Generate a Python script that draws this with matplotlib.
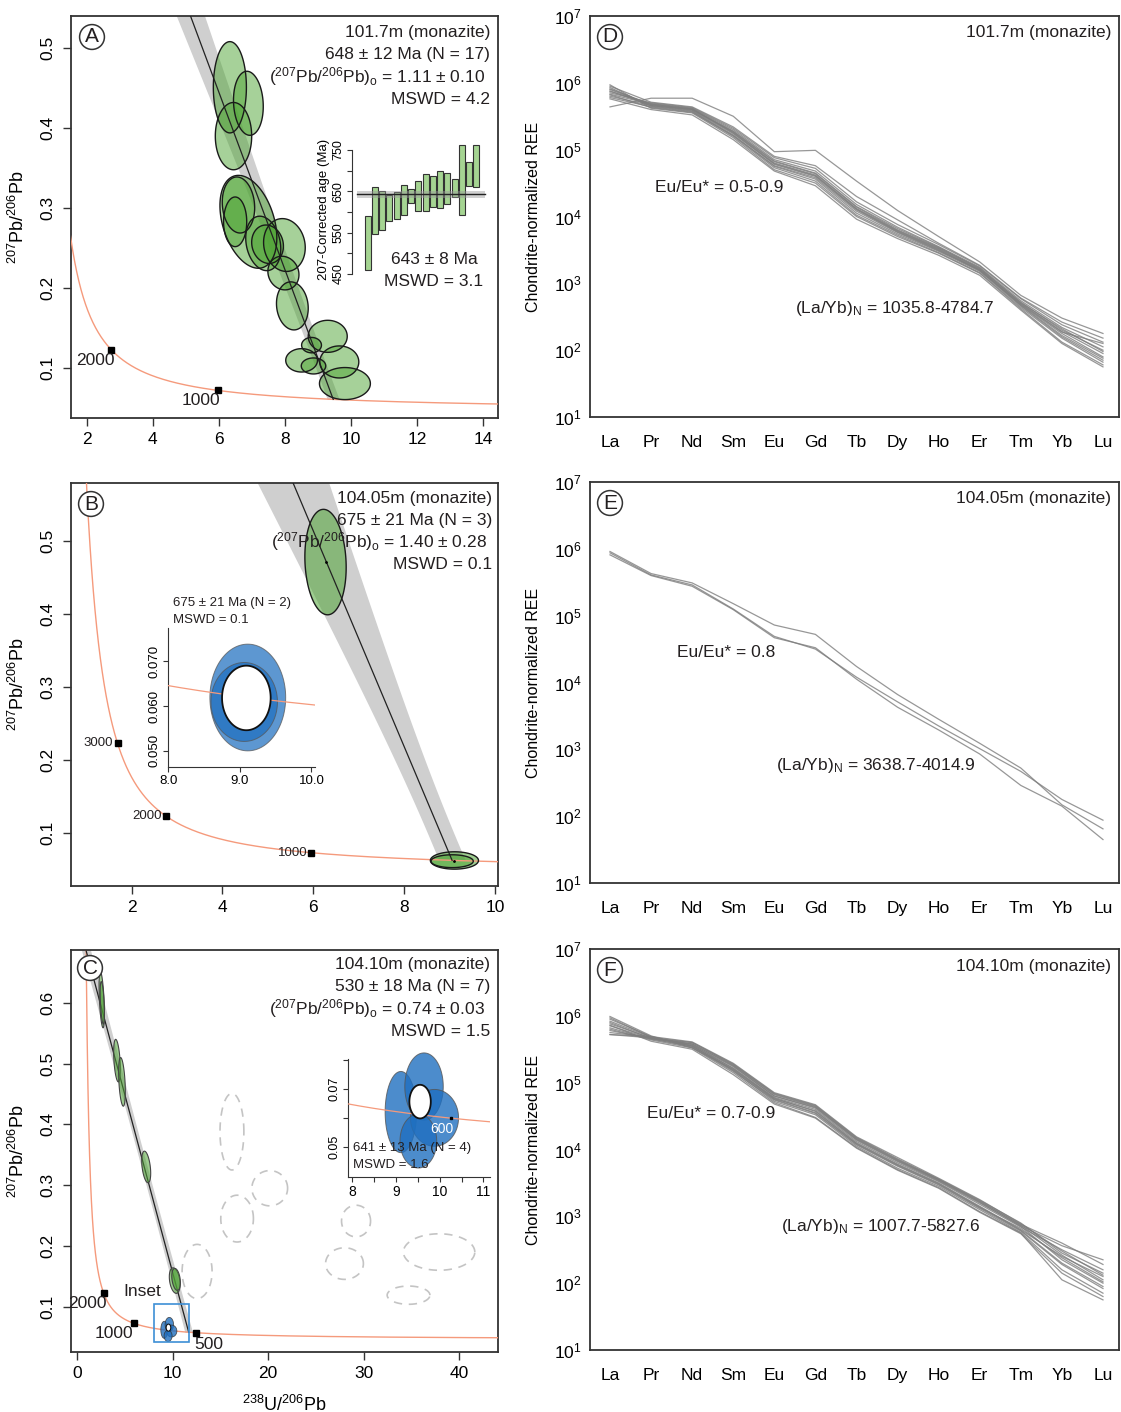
import numpy as np
import matplotlib
matplotlib.use('Agg')
import matplotlib.pyplot as plt
from matplotlib.patches import Polygon, Rectangle
from matplotlib.ticker import NullLocator

plt.rcParams['font.family'] = ['Liberation Sans', 'DejaVu Sans']
plt.rcParams['mathtext.fontset'] = 'custom'
plt.rcParams['mathtext.rm'] = 'Liberation Sans'
plt.rcParams['mathtext.it'] = 'Liberation Sans:italic'
plt.rcParams['mathtext.default'] = 'regular'
plt.rcParams['text.color'] = '#231f20'

W, H = 1121, 1412

# ---------------- data ----------------
# A: 101.7m monazite, Tera-Wasserburg ellipses (x, y, half-width, half-height, rho)
a_x = [6.33, 6.89, 6.44, 6.89, 6.59, 6.49, 7.34, 7.47, 7.98, 7.95, 8.22, 9.29, 8.80, 8.50, 9.64, 8.86, 9.81]
a_y = [0.451, 0.431, 0.390, 0.283, 0.304, 0.283, 0.256, 0.255, 0.254, 0.219, 0.178, 0.140, 0.129, 0.110, 0.108, 0.103, 0.081]
a_sx = [0.50, 0.45, 0.55, 0.86, 0.49, 0.35, 0.53, 0.48, 0.63, 0.47, 0.48, 0.59, 0.30, 0.48, 0.59, 0.37, 0.77]
a_sy = [0.057, 0.040, 0.042, 0.058, 0.035, 0.031, 0.034, 0.024, 0.033, 0.021, 0.030, 0.020, 0.0096, 0.0146, 0.020, 0.010, 0.020]
a_rho = [0.0, -0.1, 0.0, -0.35, -0.1, 0.0, -0.2, -0.1, -0.1, -0.1, -0.1, 0.0, 0.0, 0.0, 0.0, 0.0, 0.0]
a_age, a_age_err = 648, 12
a_y0, a_y0_err = 1.11, 0.10
a_concordia_ticks = [1000, 2000]
# A inset: 207-corrected ages (Ma), bar bottoms and tops
a_bar_lo = [460, 546, 556, 579, 582, 593, 621, 602, 602, 611, 609, 619, 637, 593, 663, 661]
a_bar_hi = [590, 660, 650, 640, 648, 665, 655, 675, 691, 688, 700, 695, 681, 762, 722, 762]
a_wm, a_wm_err = 643, 8

# B: 104.05m monazite
b_x = [6.27]
b_y = [0.471]
b_sx = [0.455]
b_sy = [0.0723]
b_rho = [-0.1]
b_age, b_age_err = 675, 21
b_y0, b_y0_err = 1.40, 0.28
b_concordia_ticks = [1000, 2000, 3000]
# B inset ellipses (also drawn in main panel)
bi_x = [9.11, 9.06]
bi_y = [0.0619, 0.0609]
bi_sx = [0.53, 0.465]
bi_sy = [0.0119, 0.0088]
bi_mean = (9.09, 0.0618, 0.34, 0.0072)

# C: 104.10m monazite
c_x = [2.56, 4.16, 4.68, 7.22, 10.2, 10.35, 2.62]
c_y = [0.605, 0.505, 0.470, 0.330, 0.143, 0.145, 0.600]
c_sx = [0.28, 0.35, 0.35, 0.47, 0.56, 0.45, 0.22]
c_sy = [0.046, 0.035, 0.040, 0.026, 0.021, 0.018, 0.035]
c_rho = [-0.5, -0.4, -0.4, -0.4, -0.3, -0.3, -0.5]
c_age, c_age_err = 530, 18
c_y0, c_y0_err = 0.74, 0.03
c_concordia_ticks = [500, 1000, 2000]
# rejected analyses (dashed)
cr_x = [16.2, 20.16, 16.74, 12.55, 29.2, 27.99, 37.9, 34.7]
cr_y = [0.388, 0.295, 0.245, 0.158, 0.241, 0.171, 0.190, 0.119]
cr_sx = [1.25, 1.87, 1.71, 1.57, 1.52, 1.98, 3.74, 2.24]
cr_sy = [0.063, 0.029, 0.0385, 0.0446, 0.026, 0.026, 0.030, 0.015]
# C inset ellipses
ci_x = [9.11, 9.64, 9.88, 9.51]
ci_y = [0.062, 0.0708, 0.060, 0.052]
ci_sx = [0.36, 0.44, 0.55, 0.42]
ci_sy = [0.014, 0.0116, 0.0098, 0.0093]
ci_mean = (9.55, 0.0656, 0.245, 0.0058)

# REE patterns, log10 of chondrite-normalized values
ree = ['La', 'Pr', 'Nd', 'Sm', 'Eu', 'Gd', 'Tb', 'Dy', 'Ho', 'Er', 'Tm', 'Yb', 'Lu']
d_log = [
    [5.64, 5.77, 5.77, 5.50, 4.97, 4.99, 4.53, 4.09, 3.70, 3.32, 2.82, 2.48, 2.25],
    [5.97, 5.62, 5.55, 5.18, 4.70, 4.50, 4.00, 3.70, 3.45, 3.15, 2.62, 2.12, 1.78],
    [5.93, 5.65, 5.58, 5.22, 4.75, 4.56, 4.05, 3.74, 3.48, 3.18, 2.66, 2.20, 1.85],
    [5.90, 5.67, 5.60, 5.26, 4.80, 4.62, 4.12, 3.79, 3.52, 3.21, 2.70, 2.28, 1.95],
    [5.87, 5.69, 5.62, 5.30, 4.85, 4.68, 4.18, 3.84, 3.55, 3.24, 2.74, 2.34, 2.05],
    [5.85, 5.70, 5.63, 5.32, 4.88, 4.72, 4.22, 3.88, 3.58, 3.26, 2.77, 2.38, 2.12],
    [5.83, 5.68, 5.61, 5.28, 4.83, 4.65, 4.15, 3.82, 3.54, 3.22, 2.72, 2.30, 2.00],
    [5.80, 5.66, 5.59, 5.24, 4.78, 4.60, 4.10, 3.77, 3.50, 3.19, 2.68, 2.25, 1.90],
    [5.78, 5.64, 5.57, 5.20, 4.73, 4.53, 4.02, 3.72, 3.46, 3.16, 2.64, 2.18, 1.82],
    [5.76, 5.60, 5.52, 5.15, 4.68, 4.46, 3.96, 3.67, 3.42, 3.12, 2.60, 2.10, 1.75],
    [5.95, 5.71, 5.64, 5.34, 4.90, 4.76, 4.30, 3.95, 3.60, 3.27, 2.78, 2.42, 2.18],
    [5.88, 5.66, 5.60, 5.27, 4.82, 4.64, 4.14, 3.80, 3.53, 3.23, 2.71, 2.32, 1.98],
    [5.82, 5.63, 5.56, 5.21, 4.76, 4.58, 4.08, 3.76, 3.49, 3.20, 2.69, 2.27, 2.10],
    [5.91, 5.68, 5.61, 5.25, 4.79, 4.61, 4.11, 3.78, 3.51, 3.20, 2.67, 2.22, 1.88],
]
e_log = [
    [5.96, 5.63, 5.49, 5.18, 4.86, 4.72, 4.24, 3.82, 3.45, 3.09, 2.72, 2.17, 1.81],
    [5.94, 5.61, 5.46, 5.10, 4.69, 4.50, 4.08, 3.71, 3.35, 3.01, 2.67, 2.25, 1.94],
    [5.91, 5.60, 5.44, 5.09, 4.67, 4.52, 4.05, 3.63, 3.29, 2.93, 2.46, 2.15, 1.65],
]
f_log = [
    [5.99, 5.70, 5.52, 5.20, 4.76, 4.58, 4.10, 3.78, 3.50, 3.15, 2.80, 2.40, 2.10],
    [5.95, 5.69, 5.54, 5.22, 4.78, 4.60, 4.12, 3.80, 3.52, 3.18, 2.84, 2.50, 2.20],
    [5.92, 5.68, 5.56, 5.24, 4.80, 4.62, 4.14, 3.82, 3.53, 3.20, 2.86, 2.56, 2.35],
    [5.88, 5.67, 5.58, 5.26, 4.82, 4.64, 4.16, 3.84, 3.55, 3.22, 2.88, 2.60, 2.28],
    [5.85, 5.66, 5.60, 5.28, 4.84, 4.66, 4.18, 3.86, 3.56, 3.24, 2.90, 2.45, 2.15],
    [5.82, 5.65, 5.55, 5.18, 4.72, 4.52, 4.05, 3.72, 3.45, 3.10, 2.76, 2.20, 1.85],
    [5.80, 5.64, 5.52, 5.15, 4.70, 4.48, 4.03, 3.70, 3.43, 3.07, 2.75, 2.05, 1.75],
    [5.78, 5.66, 5.58, 5.25, 4.80, 4.63, 4.15, 3.83, 3.54, 3.21, 2.85, 2.35, 2.00],
    [5.75, 5.68, 5.60, 5.27, 4.83, 4.65, 4.17, 3.85, 3.55, 3.23, 2.87, 2.42, 2.05],
    [5.72, 5.69, 5.61, 5.29, 4.85, 4.67, 4.19, 3.88, 3.57, 3.25, 2.89, 2.48, 2.12],
    [5.72, 5.67, 5.57, 5.21, 4.77, 4.57, 4.09, 3.77, 3.49, 3.14, 2.79, 2.30, 1.95],
    [5.86, 5.62, 5.50, 5.12, 4.68, 4.47, 4.02, 3.69, 3.42, 3.06, 2.74, 2.15, 1.80],
    [5.90, 5.66, 5.53, 5.17, 4.74, 4.54, 4.07, 3.75, 3.47, 3.12, 2.78, 2.28, 1.92],
    [5.97, 5.68, 5.55, 5.19, 4.75, 4.55, 4.08, 3.76, 3.48, 3.13, 2.82, 2.38, 2.02],
]

# ---------------- helpers ----------------
L238, L235, U85 = 1.55125e-10, 9.8485e-10, 137.88
GREEN = '#4fa535'
BLUE = '#1f6fc0'
SALMON = '#f59a7c'


def tw(t_ma):
    t = np.asarray(t_ma, dtype=float) * 1e6
    e8 = np.exp(L238 * t) - 1
    e5 = np.exp(L235 * t) - 1
    return 1 / e8, e5 / e8 / U85


def rect(l, t, r, b):
    return [l / W, 1 - b / H, (r - l) / W, (b - t) / H]


def ftext(px, py, s, **kw):
    fig.text(px / W, 1 - py / H, s, **kw)


def ellipse(ax, x, y, sx, sy, rho=0.0, **kw):
    th = np.linspace(0, 2 * np.pi, 120)
    px = x + sx * np.cos(th)
    py = y + sy * (rho * np.cos(th) + np.sqrt(1 - rho ** 2) * np.sin(th))
    ax.add_patch(Polygon(np.column_stack([px, py]), closed=True, **kw))


def concordia(ax, lw=1.0):
    cx, cy = tw(np.geomspace(40, 4700, 800))
    ax.plot(cx, cy, color=SALMON, lw=lw, zorder=3)


def xline(b, age, yy):
    xc, yc = tw(age)
    return (b - yy) * xc / (b - yc)


def fit(ax, y0, ey, age, eage, ytop):
    # error envelope: intercept and age uncertainties added in quadrature
    yc = tw(age)[1]
    yy = np.linspace(yc, ytop, 300)
    mid = xline(y0, age, yy)
    d_int = (xline(y0 + ey, age, yy) - xline(y0 - ey, age, yy)) / 2
    d_age = (xline(y0, age - eage, yy) - xline(y0, age + eage, yy)) / 2
    half = np.hypot(d_int, d_age)
    ax.fill_betweenx(yy, mid - half, mid + half, color='#cfcfcf', lw=0, zorder=1)
    xc, yc = tw(age)
    ax.plot([0, xc], [y0, yc], color='#222222', lw=0.9, zorder=4)


def style_tw(ax, xlim, ylim, xt, yt):
    ax.set_xlim(xlim)
    ax.set_ylim(ylim)
    ax.set_xticks(xt)
    ax.set_yticks(yt)
    ax.set_yticklabels([f'{v:g}' for v in yt])
    ax.tick_params(length=6, width=1, labelsize=12.5, pad=4, color='#333333')
    ax.tick_params(axis='y', labelrotation=90, pad=5)
    for lab in ax.get_yticklabels():
        lab.set_va('center')
    for s in ax.spines.values():
        s.set_linewidth(1.3)
        s.set_color('#333333')
    ax.set_ylabel(r'$^{207}$Pb/$^{206}$Pb', fontsize=13)
    ax.yaxis.set_label_coords(-0.100, 0.5)


def age_ticks(ax, ages, offsets, size):
    px, py = tw(ages)
    ax.plot(px, py, 's', color='k', ms=4, zorder=6)
    for a, x, y, (dx, dy, ha, va) in zip(ages, px, py, offsets):
        ax.annotate(str(a), (x, y), xytext=(dx, dy), textcoords='offset points',
                    ha=ha, va=va, fontsize=size, zorder=7)


def header(ax_right, y_first, lines):
    for i, s in enumerate(lines):
        r = ax_right - (5 if i == 2 else 0)
        ftext(r, y_first + 22 * i, s, ha='right', va='center', fontsize=12.5)


def letter(px, py, s):
    ftext(px, py, s, ha='center', va='center', fontsize=15,
          bbox=dict(boxstyle='circle,pad=0.14', fc='white', ec='#333333', lw=1.1), zorder=10)


fig = plt.figure(figsize=(W / 100, H / 100), dpi=100)

# ---------------- A ----------------
axA = fig.add_axes(rect(70.7, 16, 498, 418))
style_tw(axA, (1.516, 14.44), (0.038, 0.540), range(2, 15, 2), [0.1, 0.2, 0.3, 0.4, 0.5])
fit(axA, a_y0, a_y0_err, a_age, a_age_err, 0.6)
for x, y, sx, sy, r in zip(a_x, a_y, a_sx, a_sy, a_rho):
    ellipse(axA, x, y, sx, sy, r, fc=GREEN, alpha=0.5, ec='none', zorder=2)
    ellipse(axA, x, y, sx, sy, r, fc='none', ec='#1a1a1a', lw=1.0, zorder=5)
concordia(axA)
age_ticks(axA, a_concordia_ticks, [(2, -2, 'right', 'top'), (2, -2, 'right', 'top')], 12.5)
header(490, 33, ['101.7m (monazite)', '648 ± 12 Ma (N = 17)',
                 r'($^{207}$Pb/$^{206}$Pb)$_{\rm o}$ = 1.11 ± 0.10', 'MSWD = 4.2'])

# A inset: weighted mean of 207-corrected ages
axAi = fig.add_axes(rect(352, 140, 487, 278))
idx = np.arange(len(a_bar_lo))
axAi.bar(idx, np.array(a_bar_hi) - np.array(a_bar_lo), bottom=a_bar_lo, width=0.8,
         color='#a5d492', edgecolor='#333333', lw=0.8, zorder=2)
axAi.axhspan(a_wm - a_wm_err, a_wm + a_wm_err, xmin=0.04, xmax=0.985,
             color='#999999', alpha=0.45, lw=0, zorder=3)
axAi.axhline(a_wm, xmin=0.04, xmax=0.985, color='#222222', lw=1.0, zorder=4)
axAi.set_xlim(-2.16, 16.47)
axAi.set_ylim(440.3, 774.2)
for s in ['top', 'right', 'bottom']:
    axAi.spines[s].set_visible(False)
axAi.spines['left'].set_bounds(450, 750)
axAi.spines['left'].set_color('#333333')
axAi.set_xticks([])
axAi.set_yticks(range(450, 751, 50))
axAi.set_yticklabels(['450', '', '550', '', '650', '', '750'])
axAi.tick_params(axis='y', length=3.5, labelsize=9, labelrotation=90, pad=2, color='#333333')
for lab in axAi.get_yticklabels():
    lab.set_va('center')
axAi.set_ylabel('207-Corrected age (Ma)', fontsize=9.5, labelpad=2)
axAi.patch.set_alpha(0)
ftext(434, 259, f'{a_wm} ± {a_wm_err} Ma', ha='center', va='center', fontsize=12.5)
ftext(434, 281, 'MSWD = 3.1', ha='center', va='center', fontsize=12.5)

# ---------------- B ----------------
axB = fig.add_axes(rect(70.7, 483.3, 498, 885.7))
style_tw(axB, (0.656, 10.07), (0.0273, 0.579), range(2, 11, 2), [0.1, 0.2, 0.3, 0.4, 0.5])
fit(axB, b_y0, b_y0_err, b_age, b_age_err, 0.7)
for x, y, sx, sy, r in zip(b_x + bi_x, b_y + bi_y, b_sx + bi_sx, b_sy + bi_sy, b_rho + [0, 0]):
    ellipse(axB, x, y, sx, sy, r, fc=GREEN, alpha=0.55, ec='none', zorder=2)
    ellipse(axB, x, y, sx, sy, r, fc='none', ec='#1a1a1a', lw=1.0, zorder=5)
axB.plot([b_x[0], bi_mean[0]], [b_y[0], bi_mean[1]], '.', color='k', ms=2, zorder=6)
concordia(axB)
age_ticks(axB, b_concordia_ticks, [(-3, 0, 'right', 'center')] * 3, 9.5)
header(492, 498, ['104.05m (monazite)', '675 ± 21 Ma (N = 3)',
                  r'($^{207}$Pb/$^{206}$Pb)$_{\rm o}$ = 1.40 ± 0.28', 'MSWD = 0.1'])

axBi = fig.add_axes(rect(167.7, 628, 315, 767))
axBi.set_xlim(7.99, 10.05)
axBi.set_ylim(0.0464, 0.0774)
for x, y, sx, sy in zip(bi_x, bi_y, bi_sx, bi_sy):
    ellipse(axBi, x, y, sx, sy, 0, fc=BLUE, alpha=0.72, ec='#555555', lw=0.7, zorder=2)
mx, my, msx, msy = bi_mean
ellipse(axBi, mx, my, msx, msy, 0, fc='white', ec='#111111', lw=1.3, zorder=4)
concordia(axBi, lw=0.9)
for s in ['top', 'right']:
    axBi.spines[s].set_visible(False)
for s in ['left', 'bottom']:
    axBi.spines[s].set_color('#333333')
axBi.set_xticks([8.0, 9.0, 10.0])
axBi.set_xticklabels(['8.0', '9.0', '10.0'])
axBi.set_yticks([0.050, 0.060, 0.070])
axBi.set_yticklabels(['0.050', '0.060', '0.070'])
axBi.tick_params(length=3.5, labelsize=9.5, pad=2, color='#333333')
axBi.tick_params(axis='y', labelrotation=90)
for lab in axBi.get_yticklabels():
    lab.set_va('center')
axBi.patch.set_alpha(0)
ftext(173, 603, '675 ± 21 Ma (N = 2)', ha='left', va='center', fontsize=9.5)
ftext(173, 620, 'MSWD = 0.1', ha='left', va='center', fontsize=9.5)

# ---------------- C ----------------
axC = fig.add_axes(rect(70.7, 950, 498, 1352.3))
style_tw(axC, (-0.69, 44.07), (0.025, 0.687), range(0, 41, 10), [0.1, 0.2, 0.3, 0.4, 0.5, 0.6])
fit(axC, c_y0, c_y0_err, c_age, c_age_err, 0.8)
for x, y, sx, sy in zip(cr_x, cr_y, cr_sx, cr_sy):
    ellipse(axC, x, y, sx, sy, 0, fc='none', ec='#c4c4c4', lw=1.2, ls=(0, (5, 4)), zorder=2)
for x, y, sx, sy, r in zip(c_x, c_y, c_sx, c_sy, c_rho):
    ellipse(axC, x, y, sx, sy, r, fc=GREEN, alpha=0.55, ec='none', zorder=5)
    ellipse(axC, x, y, sx, sy, r, fc='none', ec='#444444', lw=0.8, zorder=5)
for x, y, sx, sy in zip(ci_x, ci_y, ci_sx, ci_sy):
    ellipse(axC, x, y, sx, sy, 0, fc=BLUE, alpha=0.8, ec='#333333', lw=0.6, zorder=5)
mx, my, msx, msy = ci_mean
ellipse(axC, mx, my, msx, msy, 0, fc='white', ec='#111111', lw=0.8, zorder=6)
concordia(axC)
axC.add_patch(Rectangle((8.0, 0.042), 3.75, 0.062, fc='none', ec='#3d8fd6', lw=1.2, zorder=6))
axC.text(6.78, 0.125, 'Inset', ha='center', va='center', fontsize=12.5)
age_ticks(axC, c_concordia_ticks,
          [(-1, -3, 'left', 'top'), (-1, -2, 'right', 'top'), (2, -2, 'right', 'top')], 12.5)
axC.set_xlabel(r'$^{238}$U/$^{206}$Pb', fontsize=13)
axC.xaxis.set_label_coords(0.5, -0.105)
header(490, 965, ['104.10m (monazite)', '530 ± 18 Ma (N = 7)',
                  r'($^{207}$Pb/$^{206}$Pb)$_{\rm o}$ = 0.74 ± 0.03', 'MSWD = 1.5'])

axCi = fig.add_axes(rect(348, 1059, 490, 1177))
axCi.set_xlim(7.90, 11.15)
axCi.set_ylim(0.0396, 0.0803)
for x, y, sx, sy in zip(ci_x, ci_y, ci_sx, ci_sy):
    ellipse(axCi, x, y, sx, sy, 0, fc=BLUE, alpha=0.8, ec='#555555', lw=0.7, zorder=2,
            clip_on=False)
ellipse(axCi, mx, my, msx, msy, 0, fc='white', ec='#111111', lw=1.3, zorder=4)
concordia(axCi, lw=0.9)
p6x, p6y = tw(600)
axCi.plot(p6x, p6y, 's', color='k', ms=2, zorder=5)
axCi.annotate('600', (p6x, p6y), xytext=(2, -3), textcoords='offset points',
              ha='right', va='top', color='white', fontsize=10, zorder=6)
for s in ['top', 'right']:
    axCi.spines[s].set_visible(False)
for s in ['left', 'bottom']:
    axCi.spines[s].set_color('#333333')
axCi.set_xticks(np.arange(8, 11.01, 0.5))
axCi.set_xticklabels(['8', '', '9', '', '10', '', '11'])
axCi.set_yticks([0.05, 0.06, 0.07, 0.08])
axCi.set_yticklabels(['0.05', '', '0.07', ''])
axCi.tick_params(length=3.5, labelsize=10, pad=2, color='#333333')
axCi.tick_params(axis='y', labelrotation=90, labelsize=9)
for lab in axCi.get_yticklabels():
    lab.set_va('center')
axCi.patch.set_alpha(0)
ftext(353, 1148, '641 ± 13 Ma (N = 4)', ha='left', va='center', fontsize=9.5, zorder=8)
ftext(353, 1165, 'MSWD = 1.6', ha='left', va='center', fontsize=9.5, zorder=8)

# ---------------- REE panels ----------------
ree_panels = [
    (d_log, 16, '101.7m (monazite)', 'Eu/Eu* = 0.5-0.9', (655, 187),
     r'(La/Yb)$_N$ = 1035.8-4784.7', (795, 308), 'D'),
    (e_log, 482, '104.05m (monazite)', 'Eu/Eu* = 0.8', (677, 652),
     r'(La/Yb)$_N$ = 3638.7-4014.9', (776, 765), 'E'),
    (f_log, 949, '104.10m (monazite)', 'Eu/Eu* = 0.7-0.9', (647, 1114),
     r'(La/Yb)$_N$ = 1007.7-5827.6', (781, 1227), 'F'),
]
for data, top, title, eu, eu_xy, lay, lay_xy, let in ree_panels:
    ax = fig.add_axes(rect(590, top, 1119, top + 401))
    xi = np.arange(len(ree))
    for row in data:
        ax.plot(xi, 10 ** np.array(row), color='#7d7d7d', lw=0.9, alpha=0.8)
    ax.set_yscale('log')
    ax.set_ylim(10, 1e7)
    ax.set_xlim(-0.487, 12.39)
    ax.yaxis.set_minor_locator(NullLocator())
    ax.set_yticks([10 ** k for k in range(1, 8)])
    ax.set_xticks(xi)
    ax.set_xticklabels(ree)
    ax.tick_params(length=0, labelsize=12.5)
    ax.tick_params(axis='x', pad=13)
    ax.tick_params(axis='y', pad=6)
    for s in ax.spines.values():
        s.set_linewidth(1.3)
        s.set_color('#333333')
    ax.set_ylabel('Chondrite-normalized REE', fontsize=11.5)
    ax.yaxis.set_label_coords(-(590 - 541) / 529, 0.5)
    ftext(1111, top + 17, title, ha='right', va='center', fontsize=12.5)
    ftext(eu_xy[0], eu_xy[1], eu, ha='left', va='center', fontsize=12.5)
    ftext(lay_xy[0], lay_xy[1], lay, ha='left', va='center', fontsize=12.5)
    letter(610, top + 21, let)

letter(92, 37, 'A')
letter(91, 504, 'B')
letter(90, 968, 'C')

fig.savefig('out.png', dpi=100)
